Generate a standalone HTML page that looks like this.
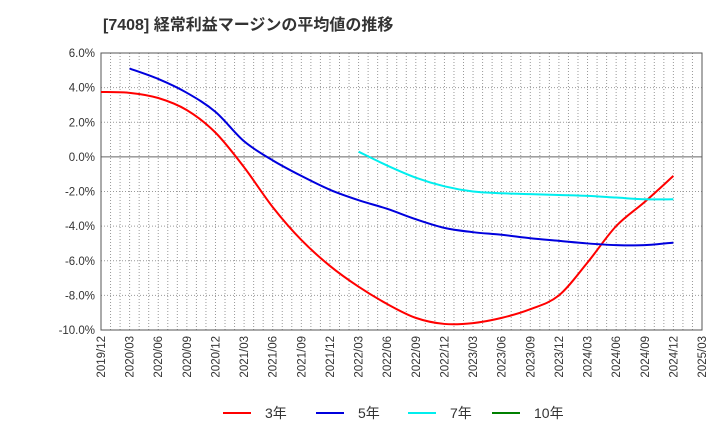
<!DOCTYPE html>
<html><head><meta charset="utf-8"><style>
body{margin:0;background:#fff;}
svg text{font-family:"Liberation Sans","Noto Sans CJK JP",sans-serif;}
</style></head><body>
<svg id="c" width="720" height="440" xmlns="http://www.w3.org/2000/svg">
<text x="103" y="30" font-size="16" font-weight="bold" fill="#333">[7408]  経常利益マージンの平均値の推移</text>
<g id="grid"></g><g id="axes"></g><g id="series"></g><g id="legend"></g>
</svg>
<script>
const xLabels=["2019/12","2020/03","2020/06","2020/09","2020/12","2021/03","2021/06","2021/09","2021/12","2022/03","2022/06","2022/09","2022/12","2023/03","2023/06","2023/09","2023/12","2024/03","2024/06","2024/09","2024/12","2025/03"];
const yTicks=[6,4,2,0,-2,-4,-6,-8,-10];
const s3=[3.75,3.7,3.4,2.7,1.4,-0.6,-2.9,-4.8,-6.3,-7.5,-8.5,-9.3,-9.65,-9.6,-9.3,-8.8,-8.0,-6.1,-4.0,-2.6,-1.1];
const s5=[null,5.1,4.5,3.7,2.6,0.9,-0.2,-1.1,-1.9,-2.5,-3.0,-3.6,-4.1,-4.35,-4.5,-4.7,-4.85,-5.0,-5.1,-5.1,-4.95];
const s7=[null,null,null,null,null,null,null,null,null,0.3,-0.5,-1.2,-1.7,-2.0,-2.1,-2.15,-2.2,-2.25,-2.35,-2.45,-2.45];
const s10=[];
const L=101,R=702,T=53,B=330;
const xs=i=>L+(R-L)*i/(xLabels.length-1);
const ys=v=>T+(6-v)/16*(B-T);
const NS="http://www.w3.org/2000/svg";
function mk(p,t,a){const e=document.createElementNS(NS,t);for(const k in a)e.setAttribute(k,a[k]);p.appendChild(e);return e;}
const g=document.getElementById('grid'),ax=document.getElementById('axes'),se=document.getElementById('series'),lg=document.getElementById('legend');
for(let m=1;m<(xLabels.length-1)*3;m++){const x=L+(R-L)*m/((xLabels.length-1)*3);
const l=mk(g,'line',{x1:x,x2:x,y1:T,y2:B,stroke:'#999','stroke-dasharray':'1,2','stroke-width':1});

}
yTicks.forEach(v=>{const y=ys(v);
const l=mk(g,'line',{x1:L,x2:R,y1:y,y2:y,stroke:v===0?'#666':'#999','stroke-dasharray':v===0?'':'1,2','stroke-width':1});


const t=mk(ax,'text',{x:L-6,y:y+4,'text-anchor':'end','font-size':11.5,fill:'#333'});t.textContent=v.toFixed(1)+'%';

});
xLabels.forEach((s,i)=>{const x=xs(i);
const t=mk(ax,'text',{x:x+4,y:B+6,'text-anchor':'end','font-size':11.5,fill:'#333',transform:`rotate(-90 ${x+4} ${B+6})`});t.textContent=s;

});
const fr=mk(ax,'rect',{x:L,y:T,width:R-L,height:B-T,fill:'none',stroke:'#555','stroke-width':1});


function path(arr){const p=[];arr.forEach((v,i)=>{if(v!=null)p.push([xs(i),ys(v)]);});
if(!p.length)return'';let d=`M${p[0][0]},${p[0][1]}`;
for(let i=0;i<p.length-1;i++){const p0=p[Math.max(0,i-1)],p1=p[i],p2=p[i+1],p3=p[Math.min(p.length-1,i+2)];
d+=` C${p1[0]+(p2[0]-p0[0])/6},${p1[1]+(p2[1]-p0[1])/6} ${p2[0]-(p3[0]-p1[0])/6},${p2[1]-(p3[1]-p1[1])/6} ${p2[0]},${p2[1]}`;}return d;}
const ser=[[s3,'#ff0000','3年','series-3y'],[s5,'#0000dd','5年','series-5y'],[s7,'#00eeee','7年','series-7y'],[s10,'#008000','10年','series-10y']];
const lx=[223,316,408,492];
ser.forEach((s,k)=>{const d=path(s[0]);if(d){const e=mk(se,'path',{d:d,fill:'none',stroke:s[1],'stroke-width':2});

}
const l=mk(lg,'line',{x1:lx[k],x2:lx[k]+28,y1:413,y2:413,stroke:s[1],'stroke-width':2});


const t=mk(lg,'text',{x:lx[k]+42,y:418,'font-size':14,fill:'#333'});t.textContent=s[2];

});
</script>
</body></html>
